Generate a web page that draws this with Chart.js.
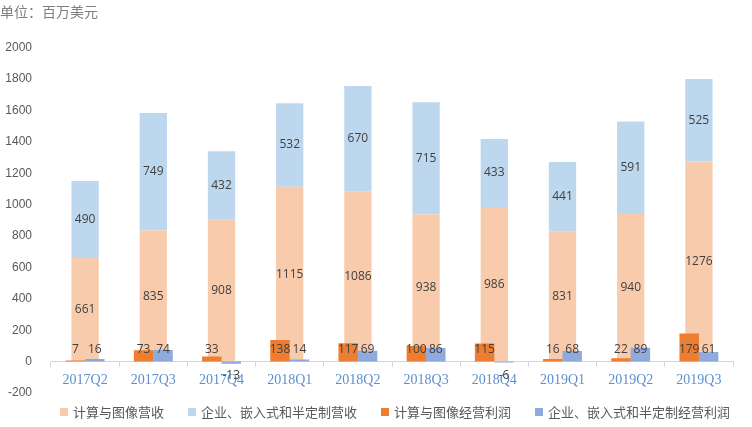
<!DOCTYPE html>
<html>
<head>
<meta charset="utf-8">
<script src="https://cdn.jsdelivr.net/npm/chart.js@4"></script>
<style>
  html, body { margin: 0; padding: 0; background: #fff; }
  #wrap { position: relative; width: 752px; height: 427px; }
  #leyenda { position: absolute; left: 60px; top: 404px; display: flex; gap: 24px;
             font: 13px "Noto Sans CJK SC", sans-serif; color: #595959; line-height: 16px; }
  #leyenda span.item { display: flex; align-items: center; white-space: nowrap; }
  #leyenda i { display: inline-block; width: 8px; height: 8px; margin-right: 5px; }
</style>
</head>
<body>
<div id="wrap"><canvas id="grafico"></canvas><div id="leyenda"></div></div>
<script>
// datos (millones de USD)
const trimestres = ['2017Q2', '2017Q3', '2017Q4', '2018Q1', '2018Q2', '2018Q3', '2018Q4', '2019Q1', '2019Q2', '2019Q3'];
const ingresosGrafico = [661, 835, 908, 1115, 1086, 938, 986, 831, 940, 1276];
const ingresosEmpresa = [490, 749, 432, 532, 670, 715, 433, 441, 591, 525];
const beneficioGrafico = [7, 73, 33, 138, 117, 100, 115, 16, 22, 179];
const beneficioEmpresa = [16, 74, -13, 14, 69, 86, -6, 68, 89, 61];
const ticksY = [-200, 0, 200, 400, 600, 800, 1000, 1200, 1400, 1600, 1800, 2000];

const fuenteCJK = '"Noto Sans CJK SC", sans-serif';

// etiquetas de valor sobre las barras
const etiquetas = {
  id: 'etiquetas',
  afterDatasetsDraw(chart) {
    const ctx = chart.ctx;
    const y0 = chart.scales.y.getPixelForValue(0);
    ctx.save();
    ctx.font = '12px "Open Sans", sans-serif';
    ctx.fillStyle = '#404040';
    ctx.textAlign = 'center';
    ctx.textBaseline = 'middle';
    chart.data.datasets.forEach((ds, i) => {
      const meta = chart.getDatasetMeta(i);
      meta.data.forEach((bar, j) => {
        const v = ds.data[j];
        let y;
        if (ds.stack === 'ingresos') {
          y = (bar.y + bar.base) / 2;
        } else {
          y = v >= 0 ? y0 - 12 : y0 + 14;
        }
        ctx.fillText(String(v), bar.x, y);
      });
    });
    ctx.restore();
  }
};

const chart = new Chart(document.getElementById('grafico'), {
  type: 'bar',
  data: {
    labels: trimestres,
    datasets: [
      { label: '计算与图像营收', data: ingresosGrafico, backgroundColor: '#f8cbad', stack: 'ingresos', grouped: false, order: 1, categoryPercentage: 1, barPercentage: 0.4 },
      { label: '企业、嵌入式和半定制营收', data: ingresosEmpresa, backgroundColor: '#bdd7ee', stack: 'ingresos', grouped: false, order: 1, categoryPercentage: 1, barPercentage: 0.4 },
      { label: '计算与图像经营利润', data: beneficioGrafico, backgroundColor: '#ed7d31', stack: 'b1', order: 0, categoryPercentage: 0.57, barPercentage: 1 },
      { label: '企业、嵌入式和半定制经营利润', data: beneficioEmpresa, backgroundColor: '#8faadc', stack: 'b2', order: 0, categoryPercentage: 0.57, barPercentage: 1 }
    ]
  },
  options: {
    responsive: true,
    maintainAspectRatio: false,
    animation: false,
    layout: { padding: { left: 0, right: 19, top: 0, bottom: 34 } },
    plugins: {
      tooltip: { enabled: false },
      legend: { display: false },
      title: {
        display: true,
        text: '单位：百万美元',
        align: 'start',
        color: '#7f7f7f',
        font: { family: fuenteCJK, size: 14, weight: 'normal' },
        padding: { top: 3, bottom: 28 }
      }
    },
    scales: {
      x: {
        position: { y: 0 },
        offset: true,
        grid: { offset: true, drawOnChartArea: false, drawTicks: true, tickLength: 5, color: '#c5d7ee' },
        border: { display: true, color: '#c5d7ee', dash: [8, 4] },
        ticks: { color: '#5b8fd0', font: { family: '"Liberation Serif", serif', size: 14 }, padding: 5, maxRotation: 0 }
      },
      y: {
        min: -200,
        max: 2000,
        afterBuildTicks: (scale) => { scale.ticks = ticksY.map(v => ({ value: v })); },
        afterFit: (scale) => { scale.width = 51; },
        grid: { display: false },
        border: { display: false },
        ticks: { color: '#595959', font: { family: '"Liberation Sans", sans-serif', size: 12 }, padding: 11, callback: v => String(v) }
      }
    }
  },
  plugins: [etiquetas]
});

// leyenda en HTML con los mismos colores
const leyenda = document.getElementById('leyenda');
chart.data.datasets.forEach(ds => {
  const item = document.createElement('span');
  item.className = 'item';
  item.innerHTML = `<i style="background:${ds.backgroundColor}"></i>${ds.label}`;
  leyenda.appendChild(item);
});
</script>
</body>
</html>
